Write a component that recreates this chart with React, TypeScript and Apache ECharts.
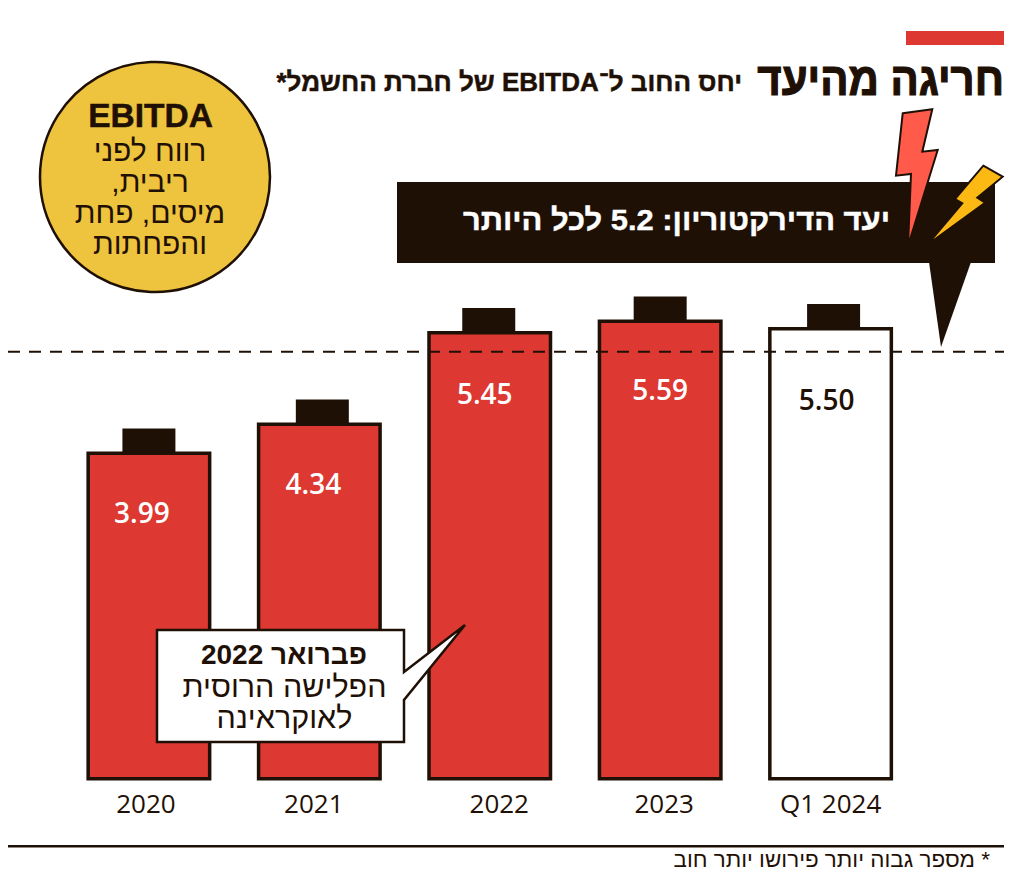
import React, { useEffect, useRef } from "react";
import * as echarts from "echarts";

const categories = ["2020", "2021", "2022", "2023", "Q1 2024"];
const ratios = [3.99, 4.34, 5.45, 5.59, 5.5];
const ratioLabels = ["3.99", "4.34", "5.45", "5.59", "5.50"];
const target = [5.2];
const titleText = "חריגה מהיעד";
const subtitleText = "\u202Bיחס החוב ל־EBITDA של חברת החשמל*\u202C";
const targetText = "יעד הדירקטוריון: 5.2 לכל היותר";
const circleHead = "EBITDA";
const circleLines = ["רווח לפני", "ריבית,\u200F", "מיסים, פחת", "והפחתות"];
const calloutHead = "פברואר 2022";
const calloutLines = ["הפלישה הרוסית", "לאוקראינה"];
const footnote = "\u200F* מספר גבוה יותר פירושו יותר חוב";

const labelDx = [-7, -6, -5, 0, -4];
const labelDy = [42, 41, 43, 50, 53];
const capDx = [0, 3, -1, 0, 3];
const catPadding = [[0, 6, 0, 0], [0, 11, 0, 0], [0, 0, 0, 19], [0, 0, 0, 8], [0, 0, 0, 0]];

const DARK = "#1f1006";
const RED = "#dd3831";
const HEB = "'Liberation Sans', Arial, sans-serif";
const NUM = "'Open Sans', sans-serif";

const txt = (text: string, x: number, y: number, size: number, extra: any = {}, sx = 1) => ({
  type: "text",
  x,
  y,
  scaleX: sx,
  z: extra.z ?? 20,
  style: {
    text,
    fill: extra.fill ?? DARK,
    font: `${extra.weight ?? "normal"} ${size}px ${extra.family ?? HEB}`,
    textAlign: extra.align ?? "center",
    textVerticalAlign: "middle",
    stroke: extra.stroke,
    lineWidth: extra.lineWidth ?? 0,
  },
});

export default function App() {
  const ref = useRef<HTMLDivElement>(null);
  useEffect(() => {
    const chart = echarts.init(ref.current!, undefined, { renderer: "svg" });
    chart.setOption({
      animation: false,
      backgroundColor: "#ffffff",
      grid: { left: 63.7, right: 108.2, top: 285.7, bottom: 101.5 },
      xAxis: {
        type: "category",
        data: categories.map((c, i) => ({ value: c, textStyle: { padding: catPadding[i] } })),
        axisLine: { show: false },
        axisTick: { show: false },
        axisLabel: { color: DARK, fontFamily: NUM, fontSize: 26, margin: 9.5, interval: 0 },
      },
      yAxis: { type: "value", min: 0, max: 6, interval: 1, show: false },
      series: [
        {
          type: "bar",
          z: 3,
          barWidth: 125,
          data: ratios.map((v, i) => ({
            value: v,
            itemStyle: { color: i === 4 ? "#ffffff" : RED, borderColor: DARK, borderWidth: 3.5 },
            label: {
              show: true,
              position: "insideTop",
              offset: [labelDx[i], labelDy[i]],
              formatter: ratioLabels[i],
              color: i === 4 ? DARK : "#ffffff",
              fontFamily: NUM,
              fontSize: 28,
              fontWeight: 600,
            },
          })),
        },
        {
          type: "custom",
          z: 4,
          silent: true,
          clip: false,
          data: ratios,
          renderItem: (p: any, api: any) => {
            const [x, y] = api.coord([p.dataIndex, api.value(0)]);
            return {
              type: "rect",
              shape: { x: x - 26.5 + capDx[p.dataIndex], y: y - 23, width: 53, height: 25 },
              style: { fill: DARK },
            };
          },
          encode: { y: 0 },
        },
        {
          type: "custom",
          z: 5,
          silent: true,
          clip: false,
          data: target,
          renderItem: (_p: any, api: any) => {
            const [, y] = api.coord([0, api.value(0)]);
            return {
              type: "line",
              shape: { x1: 8, y1: y, x2: 1004, y2: y },
              style: { stroke: DARK, lineWidth: 2, lineDash: [12, 9] },
            };
          },
          encode: { y: 0 },
        },
      ],
      graphic: {
        elements: [
          { type: "rect", z: 1, shape: { x: 906, y: 31, width: 98, height: 14 }, style: { fill: RED } },
          txt(titleText, 1004, 79, 46, { weight: "bold", align: "right", stroke: DARK, lineWidth: 1.2 }, 0.91),
          txt(subtitleText, 742, 82, 26, { weight: "bold", align: "right", stroke: DARK, lineWidth: 0.5 }),
          { type: "rect", z: 1, shape: { x: 397, y: 182, width: 598, height: 81 }, style: { fill: DARK } },
          {
            type: "polygon", z: 1,
            shape: { points: [[929, 262], [971, 262], [941, 347]] },
            style: { fill: DARK },
          },
          {
            type: "polygon", z: 2,
            shape: { points: [[902.7, 113.3], [932.3, 109.3], [922.3, 151.7], [937.7, 150], [908, 246], [911, 174], [896, 175.7]] },
            style: { fill: "#ff5a4a", stroke: DARK, lineWidth: 2 },
          },
          {
            type: "polygon", z: 2,
            shape: { points: [[983.3, 165.7], [1002.7, 176.7], [977.3, 197.7], [985, 202.7], [927, 245], [962.3, 203.3], [955, 199]] },
            style: { fill: "#fdb913", stroke: DARK, lineWidth: 2 },
          },
          txt(targetText, 890, 219, 30, { weight: "bold", align: "right", fill: "#ffffff", stroke: "#ffffff", lineWidth: 0.4 }, 1.03),
          {
            type: "circle", z: 1,
            shape: { cx: 155, cy: 177, r: 115 },
            style: { fill: "#eec33d", stroke: DARK, lineWidth: 2.5 },
          },
          txt(circleHead, 150.5, 115, 33.5, { weight: "bold", stroke: DARK, lineWidth: 0.5 }),
          ...circleLines.map((l, i) => txt(l, 150, 150 + i * 31, 30)),
          {
            type: "polygon", z: 10,
            shape: { points: [[157, 630], [404, 630], [404, 672], [465, 625], [404, 700], [404, 742], [157, 742]] },
            style: { fill: "#ffffff", stroke: DARK, lineWidth: 2.5 },
          },
          txt(calloutHead, 284, 654, 28, { weight: "bold" }),
          ...calloutLines.map((l, i) => txt(l, 284.5, 686 + i * 31, 30.5)),
          { type: "rect", z: 1, shape: { x: 8, y: 845, width: 996, height: 2.5 }, style: { fill: DARK } },
          txt(footnote, 990, 860, 22, { align: "right" }, 1.02),
        ],
      },
    });
    return () => chart.dispose();
  }, []);
  return <div ref={ref} style={{ position: "absolute", left: 0, top: 0, width: 1024, height: 882 }} />;
}
